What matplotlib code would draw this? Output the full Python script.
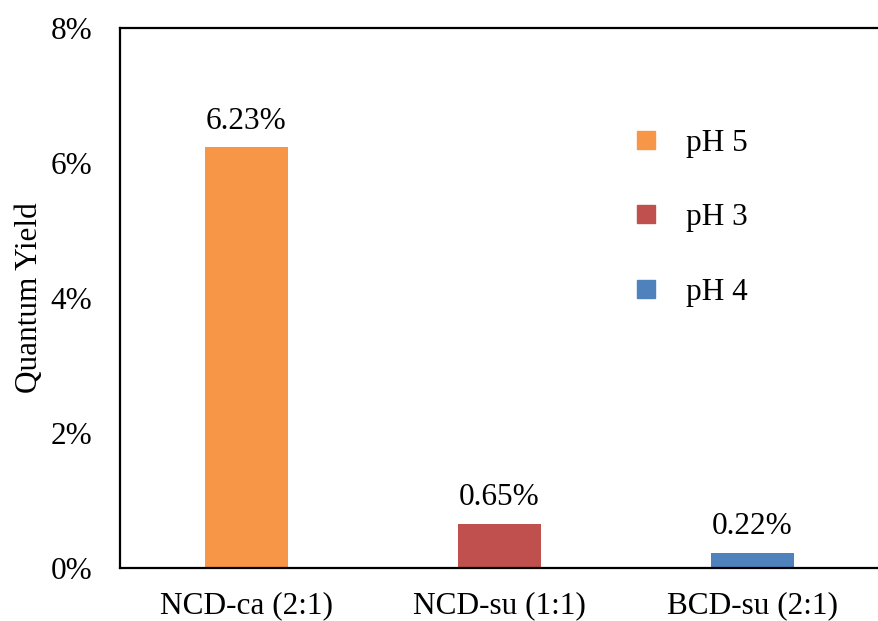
import matplotlib
matplotlib.use("Agg")
import matplotlib.pyplot as plt
from matplotlib.lines import Line2D
from matplotlib.ticker import FuncFormatter

plt.rcParams['font.family'] = ['Liberation Serif', 'DejaVu Serif']

# quantum yield per sample (%)
samples = ['NCD-ca (2:1)', 'NCD-su (1:1)', 'BCD-su (2:1)']
yields = [6.23, 0.65, 0.22]
ph_labels = ['pH 5', 'pH 3', 'pH 4']
colors = ['#F79646', '#C0504D', '#4F81BD']

FS = 22.5

fig = plt.figure(figsize=(8.79, 6.21), dpi=100)
ax = fig.add_axes([120 / 879, 1 - 568 / 621, 759 / 879, 540 / 621])

x = range(len(samples))
bars = ax.bar(x, yields, width=0.325, color=colors)
for bar, val in zip(bars, yields):
    ax.annotate(f'{val:.2f}%', (bar.get_x() + bar.get_width() / 2, val),
                xytext=(0, 8.5), textcoords='offset points',
                ha='center', va='bottom', fontsize=FS)

ax.set_xlim(-0.5, 2.5)
ax.set_ylim(0, 8)
ax.set_yticks([0, 2, 4, 6, 8])
ax.yaxis.set_major_formatter(FuncFormatter(lambda v, _: f'{v:.0f}%'))
ax.set_xticks(list(x))
ax.set_xticklabels(samples)
ax.tick_params(axis='both', length=0, labelsize=FS)
ax.tick_params(axis='x', pad=17)
ax.tick_params(axis='y', pad=20)
ax.set_ylabel('Quantum Yield', fontsize=FS, labelpad=5)

for side in ['left', 'top', 'bottom']:
    ax.spines[side].set_linewidth(1.6)
    ax.spines[side].set_color('black')
ax.spines['right'].set_visible(False)

handles = [Line2D([], [], marker='s', linestyle='none', markersize=12.5,
                  markerfacecolor=c, markeredgecolor=c) for c in colors]
ax.legend(handles, ph_labels, loc='upper left', bbox_to_anchor=(0.635, 0.865),
          frameon=False, fontsize=FS, labelspacing=1.45, handletextpad=0.8,
          handlelength=1.0)

fig.savefig('out.png', dpi=100)
